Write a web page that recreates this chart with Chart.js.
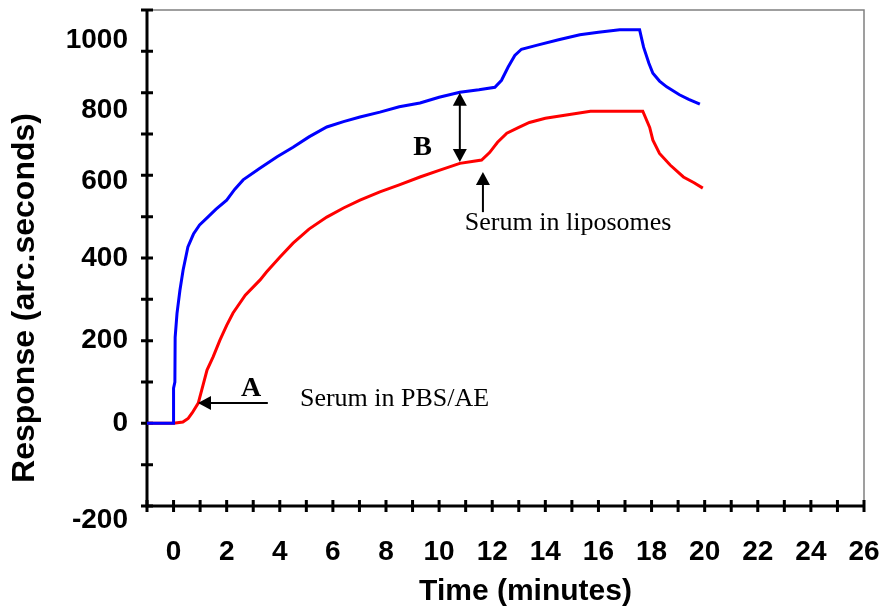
<!DOCTYPE html>
<html lang="en">
<head>
<meta charset="utf-8">
<script src="https://cdn.jsdelivr.net/npm/chart.js@4.4.1/dist/chart.umd.min.js"></script>
<style>
  html, body { margin: 0; padding: 0; background: #fff; }
  #wrap { width: 887px; height: 612px; }
</style>
</head>
<body>
<div id="wrap"><canvas id="chart"></canvas></div>
<script>
// data (time in minutes, response in arc.seconds)
var blueTime = [-1, 0, 0, 0.05, 0.06, 0.13, 0.24, 0.36, 0.54, 0.75, 0.98, 1.26, 1.6, 2.0, 2.3, 2.62, 3.25, 3.9, 4.5, 5.1, 5.77, 6.4, 7.02, 7.77, 8.5, 9.28, 10.0, 10.78, 11.5, 12.1, 12.35, 12.6, 12.85, 13.1, 13.7, 14.5, 15.3, 16.0, 16.8, 17.55, 17.7, 17.9, 18.05, 18.3, 18.57, 19.05, 19.4, 19.82];
var blueResp = [0, 0, 85, 100, 208, 266, 322, 371, 427, 458, 480, 497, 518, 540, 566, 589, 617, 645, 668, 693, 717, 730, 741, 753, 766, 775, 789, 801, 807, 813, 830, 862, 890, 905, 915, 928, 940, 946, 952, 952, 910, 871, 847, 828, 814, 795, 784, 772];

var redTime = [-1, 0, 0.35, 0.55, 0.7, 0.93, 1.1, 1.26, 1.49, 1.75, 2.0, 2.24, 2.7, 3.26, 3.5, 4.0, 4.5, 5.1, 5.77, 6.4, 7.02, 7.77, 8.5, 9.28, 10.0, 10.78, 11.3, 11.6, 11.9, 12.2, 12.55, 13.0, 13.4, 14.0, 14.67, 15.7, 16.5, 17.67, 17.93, 18.05, 18.3, 18.7, 19.2, 19.6, 19.93];
var redResp = [0, 0, 3, 12, 25, 49, 90, 129, 161, 202, 237, 267, 310, 347, 366, 402, 436, 470, 499, 521, 540, 560, 577, 596, 612, 629, 634, 637, 655, 680, 702, 716, 728, 738, 745, 755, 755, 755, 716, 685, 653, 625, 596, 582, 569];

var xLabels = [0, 2, 4, 6, 8, 10, 12, 14, 16, 18, 20, 22, 24, 26];
var yLabels = [-200, 0, 200, 400, 600, 800, 1000];
// the original figure prints its y labels a little below their ticks
var yLabelShift = [14, 0, 0, 0, 6, 18, 30];

// annotation anchors, in data units
var arrowA = { tail: [3.55, 49], tip: [0.92, 49] };
var arrowB = { top: [10.78, 800], bottom: [10.78, 632] };
var arrowLipo = { tail: [11.65, 511], tip: [11.65, 608] };

var sans = '"Liberation Sans", Arial, sans-serif';
var serif = '"Liberation Serif", "Times New Roman", serif';

function pairs(xs, ys) {
    return xs.map(function (x, i) { return { x: x, y: ys[i] }; });
}

function noPad(s) {
    s.paddingTop = 0; s.paddingBottom = 0; s.paddingLeft = 0; s.paddingRight = 0;
}

function arrowHead(c, x, y, dx, dy) {
    // filled triangle with its point at (x, y), pointing along (dx, dy)
    var len = 13, half = 7;
    c.beginPath();
    c.moveTo(x, y);
    c.lineTo(x - dx * len - dy * half, y - dy * len + dx * half);
    c.lineTo(x - dx * len + dy * half, y - dy * len - dx * half);
    c.closePath();
    c.fill();
}

var framePlugin = {
    id: 'frame',
    beforeDraw: function (chart) {
        var ys = chart.scales.y;
        if (!ys.getLabelItems) return;
        ys.getLabelItems().forEach(function (it) {
            if (it._shifted) return;
            var i = yLabels.indexOf(Number(it.label));
            if (i >= 0 && it.options && it.options.translation) {
                it.options.translation[1] += yLabelShift[i];
            }
            it._shifted = true;
        });
    },
    beforeDatasetsDraw: function (chart) {
        var c = chart.ctx, a = chart.chartArea;
        var xs = chart.scales.x, ys = chart.scales.y;
        c.save();
        c.strokeStyle = '#808080';
        c.lineWidth = 1.5;
        c.beginPath();
        c.moveTo(a.left, a.top);
        c.lineTo(a.right, a.top);
        c.lineTo(a.right, a.bottom);
        c.stroke();

        c.strokeStyle = '#000';
        c.lineWidth = 3;
        c.beginPath();
        c.moveTo(a.left, a.top);
        c.lineTo(a.left, a.bottom);
        c.lineTo(a.right, a.bottom);
        c.stroke();

        c.beginPath();
        ys.ticks.forEach(function (t) {
            var y = ys.getPixelForValue(t.value);
            c.moveTo(a.left - 6, y);
            c.lineTo(a.left + 6, y);
        });
        xs.ticks.forEach(function (t) {
            var x = xs.getPixelForValue(t.value);
            c.moveTo(x, a.bottom - 6);
            c.lineTo(x, a.bottom + 6);
        });
        c.stroke();

        // axis titles
        c.fillStyle = '#000';
        c.font = 'bold 30px ' + sans;
        c.textAlign = 'center';
        c.textBaseline = 'middle';
        c.fillText('Time (minutes)', (a.left + a.right) / 2 + 20, a.bottom + 86);
        c.translate(25, (a.top + a.bottom) / 2 + 40);
        c.rotate(-Math.PI / 2);
        c.font = 'bold 32px ' + sans;
        c.fillText('Response (arc.seconds)', 0, 0);
        c.restore();
    },
    afterDatasetsDraw: function (chart) {
        var c = chart.ctx;
        var xs = chart.scales.x, ys = chart.scales.y;
        function px(p) { return [xs.getPixelForValue(p[0]), ys.getPixelForValue(p[1])]; }
        c.save();
        c.strokeStyle = '#000';
        c.fillStyle = '#000';
        c.lineWidth = 2;

        // A: horizontal arrow pointing left at the red rise
        var t0 = px(arrowA.tail), t1 = px(arrowA.tip);
        c.beginPath(); c.moveTo(t0[0], t0[1]); c.lineTo(t1[0] + 10, t1[1]); c.stroke();
        arrowHead(c, t1[0], t1[1], -1, 0);

        // B: double arrow between the two curves
        var b0 = px(arrowB.top), b1 = px(arrowB.bottom);
        c.beginPath(); c.moveTo(b0[0], b0[1] + 10); c.lineTo(b1[0], b1[1] - 10); c.stroke();
        arrowHead(c, b0[0], b0[1], 0, -1);
        arrowHead(c, b1[0], b1[1], 0, 1);

        // liposome injection arrow pointing up
        var l0 = px(arrowLipo.tail), l1 = px(arrowLipo.tip);
        c.beginPath(); c.moveTo(l0[0], l0[1]); c.lineTo(l1[0], l1[1] + 10); c.stroke();
        arrowHead(c, l1[0], l1[1], 0, -1);

        c.textBaseline = 'alphabetic';
        c.textAlign = 'center';
        c.font = 'bold 28px ' + serif;
        var pa = px([2.92, 66]);
        c.fillText('A', pa[0], pa[1]);
        var pb = px([9.38, 649]);
        c.fillText('B', pb[0], pb[1]);

        c.textAlign = 'left';
        c.font = '26px ' + serif;
        var s1 = px([4.76, 42]);
        c.fillText('Serum in PBS/AE', s1[0], s1[1]);
        var s2 = px([10.97, 468]);
        c.fillText('Serum in liposomes', s2[0], s2[1]);
        c.restore();
    }
};

var ctx = document.getElementById('chart').getContext('2d');
new Chart(ctx, {
    type: 'scatter',
    data: {
        datasets: [{
            label: 'blue',
            data: pairs(blueTime, blueResp),
            showLine: true,
            borderColor: '#0000ff',
            borderWidth: 3,
            pointRadius: 0,
            tension: 0
        }, {
            label: 'red',
            data: pairs(redTime, redResp),
            showLine: true,
            borderColor: '#ff0000',
            borderWidth: 3,
            pointRadius: 0,
            tension: 0
        }]
    },
    options: {
        responsive: true,
        maintainAspectRatio: false,
        animation: false,
        layout: { padding: { top: 10, right: 23, left: 0, bottom: 0 } },
        plugins: { legend: { display: false }, tooltip: { enabled: false } },
        scales: {
            x: {
                type: 'linear',
                min: -1,
                max: 26,
                grid: { display: false, drawTicks: false },
                border: { display: false },
                afterFit: function (s) { s.height = 106; noPad(s); },
                ticks: {
                    stepSize: 1,
                    autoSkip: false,
                    maxRotation: 0,
                    padding: 29,
                    color: '#000',
                    font: { family: sans, size: 28, weight: 'bold' },
                    callback: function (v) { return xLabels.indexOf(v) >= 0 ? v : ''; }
                }
            },
            y: {
                type: 'linear',
                min: -200,
                max: 1000,
                grid: { display: false, drawTicks: false },
                border: { display: false },
                afterFit: function (s) { s.width = 147; noPad(s); },
                ticks: {
                    stepSize: 100,
                    autoSkip: false,
                    padding: 19,
                    color: '#000',
                    font: { family: sans, size: 28, weight: 'bold' },
                    callback: function (v) { return yLabels.indexOf(v) >= 0 ? v : ''; }
                }
            }
        }
    },
    plugins: [framePlugin]
});
</script>
</body>
</html>
